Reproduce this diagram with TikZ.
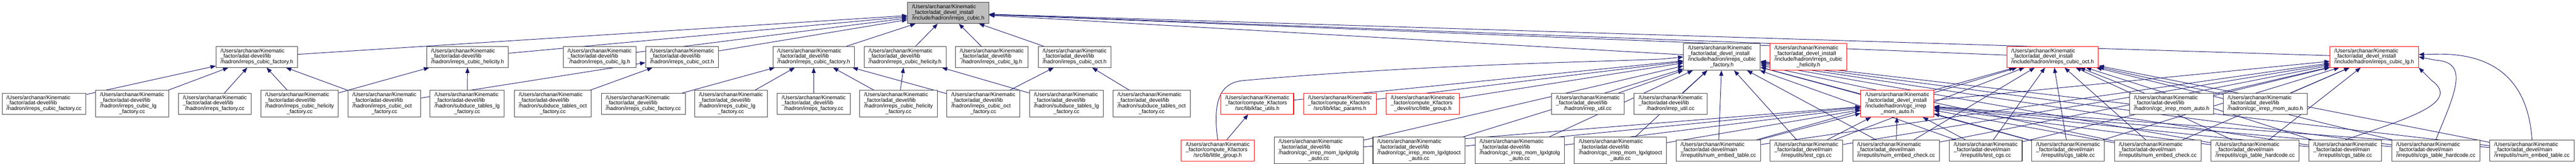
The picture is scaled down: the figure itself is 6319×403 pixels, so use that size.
\documentclass[tikz,border=0pt]{standalone}
\usepackage{fontspec}
\setmainfont{Liberation Sans}
\usetikzlibrary{arrows.meta}
\definecolor{edgeblue}{HTML}{191970}
\definecolor{boxgrey}{HTML}{404040}
\definecolor{rootgrey}{HTML}{BFBFBF}
\definecolor{trunc}{HTML}{FF0000}
\pgfdeclarelayer{bg}
\pgfsetlayers{bg,main}
\newcommand{\fpath}[2]{\begin{tabular}{@{}l@{}}/Users/archanar/Kinematic\\#1\\\multicolumn{1}{@{}c@{}}{#2}\end{tabular}}
\tikzset{
  filebox/.style={draw=boxgrey, line width=1.3pt, fill=white, inner xsep=11pt, inner ysep=5pt, font=\fontsize{13.3}{13.8}\selectfont},
  redbox/.style={filebox, draw=trunc},
  rootbox/.style={filebox, fill=rootgrey},
  dep/.style={draw=edgeblue, line width=1.2pt, -{Triangle[length=13pt,width=10pt]}}
}
\begin{document}
\begin{tikzpicture}[x=1pt,y=1pt]
\useasboundingbox (0,0) rectangle (6319,403);
\node[rootbox](R) at (2326,371) {\fpath{\_factor/adat\_devel\_install}{/include/hadron/irreps\_cubic.h}};
\node[filebox](A) at (630,263) {\fpath{\_factor/adat-devel/lib}{/hadron/irreps\_cubic\_factory.h}};
\node[filebox](B) at (1147,263) {\fpath{\_factor/adat-devel/lib}{/hadron/irreps\_cubic\_helicity.h}};
\node[filebox](C) at (1471,263) {\fpath{\_factor/adat-devel/lib}{/hadron/irreps\_cubic\_lg.h}};
\node[filebox](D) at (1673,263) {\fpath{\_factor/adat-devel/lib}{/hadron/irreps\_cubic\_oct.h}};
\node[filebox](E) at (1996,263) {\fpath{\_factor/adat\_devel/lib}{/hadron/irreps\_cubic\_factory.h}};
\node[filebox](F) at (2220,263) {\fpath{\_factor/adat\_devel/lib}{/hadron/irreps\_cubic\_helicity.h}};
\node[filebox](G) at (2433,263) {\fpath{\_factor/adat\_devel/lib}{/hadron/irreps\_cubic\_lg.h}};
\node[filebox](H) at (2636,263) {\fpath{\_factor/adat\_devel/lib}{/hadron/irreps\_cubic\_oct.h}};
\node[filebox](I) at (4224,263) {\fpath{\_factor/adat\_devel\_install\\/include/hadron/irreps\_cubic}{\_factory.h}};
\node[redbox](J) at (4436,263) {\fpath{\_factor/adat\_devel\_install\\/include/hadron/irreps\_cubic}{\_helicity.h}};
\node[redbox](K) at (5035,263) {\fpath{\_factor/adat\_devel\_install}{/include/hadron/irreps\_cubic\_oct.h}};
\node[redbox](L) at (5824,263) {\fpath{\_factor/adat\_devel\_install}{/include/hadron/irreps\_cubic\_lg.h}};
\node[filebox](M) at (108,148) {\fpath{\_factor/adat-devel/lib}{/hadron/irreps\_cubic\_factory.cc}};
\node[filebox](N) at (324,148) {\fpath{\_factor/adat-devel/lib\\/hadron/irreps\_cubic\_lg}{\_factory.cc}};
\node[filebox](O) at (527,148) {\fpath{\_factor/adat-devel/lib}{/hadron/irreps\_factory.cc}};
\node[filebox](P) at (735,148) {\fpath{\_factor/adat-devel/lib\\/hadron/irreps\_cubic\_helicity}{\_factory.cc}};
\node[filebox](Q) at (943,148) {\fpath{\_factor/adat-devel/lib\\/hadron/irreps\_cubic\_oct}{\_factory.cc}};
\node[filebox](S) at (1146,148) {\fpath{\_factor/adat-devel/lib\\/hadron/subduce\_tables\_lg}{\_factory.cc}};
\node[filebox](T) at (1356,148) {\fpath{\_factor/adat-devel/lib\\/hadron/subduce\_tables\_oct}{\_factory.cc}};
\node[filebox](U) at (1578,148) {\fpath{\_factor/adat\_devel/lib}{/hadron/irreps\_cubic\_factory.cc}};
\node[filebox](V) at (1793,148) {\fpath{\_factor/adat\_devel/lib\\/hadron/irreps\_cubic\_lg}{\_factory.cc}};
\node[filebox](W) at (1996,148) {\fpath{\_factor/adat\_devel/lib}{/hadron/irreps\_factory.cc}};
\node[filebox](X) at (2204,148) {\fpath{\_factor/adat\_devel/lib\\/hadron/irreps\_cubic\_helicity}{\_factory.cc}};
\node[filebox](Y) at (2412,148) {\fpath{\_factor/adat\_devel/lib\\/hadron/irreps\_cubic\_oct}{\_factory.cc}};
\node[filebox](Z) at (2616,148) {\fpath{\_factor/adat\_devel/lib\\/hadron/subduce\_tables\_lg}{\_factory.cc}};
\node[filebox](AA) at (2825,148) {\fpath{\_factor/adat\_devel/lib\\/hadron/subduce\_tables\_oct}{\_factory.cc}};
\node[redbox](AB) at (3084,148) {\fpath{\_factor/compute\_Kfactors}{/src/lib/kfac\_utils.h}};
\node[redbox](AC) at (3287,148) {\fpath{\_factor/compute\_Kfactors}{/src/lib/kfac\_params.h}};
\node[redbox](AD) at (3490,148) {\fpath{\_factor/compute\_Kfactors}{\_devel/src/little\_group.h}};
\node[filebox](AE) at (3895,148) {\fpath{\_factor/adat\_devel/lib}{/hadron/irrep\_util.cc}};
\node[filebox](AF) at (4098,148) {\fpath{\_factor/adat-devel/lib}{/hadron/irrep\_util.cc}};
\node[redbox](AG) at (4654,148) {\fpath{\_factor/adat\_devel\_install\\/include/hadron/cgc\_irrep}{\_mom\_auto.h}};
\node[filebox](AH) at (5327,148) {\fpath{\_factor/adat-devel/lib}{/hadron/cgc\_irrep\_mom\_auto.h}};
\node[filebox](AI) at (5557,148) {\fpath{\_factor/adat\_devel/lib}{/hadron/cgc\_irrep\_mom\_auto.h}};
\node[redbox](AJ) at (2987,33) {\fpath{\_factor/compute\_Kfactors}{/src/lib/little\_group.h}};
\node[filebox](AK) at (3235,33) {\fpath{\_factor/adat\_devel/lib\\/hadron/cgc\_irrep\_mom\_lgxlgtolg}{\_auto.cc}};
\node[filebox](AL) at (3481,33) {\fpath{\_factor/adat\_devel/lib\\/hadron/cgc\_irrep\_mom\_lgxlgtooct}{\_auto.cc}};
\node[filebox](AM) at (3728,33) {\fpath{\_factor/adat-devel/lib\\/hadron/cgc\_irrep\_mom\_lgxlgtolg}{\_auto.cc}};
\node[filebox](AN) at (3975,33) {\fpath{\_factor/adat-devel/lib\\/hadron/cgc\_irrep\_mom\_lgxlgtooct}{\_auto.cc}};
\node[filebox](AO) at (4215,33) {\fpath{\_factor/adat-devel/main}{/irreputils/num\_embed\_table.cc}};
\node[filebox](AP) at (4431,33) {\fpath{\_factor/adat\_devel/main}{/irreputils/test\_cgs.cc}};
\node[filebox](AQ) at (4651,33) {\fpath{\_factor/adat\_devel/main}{/irreputils/num\_embed\_check.cc}};
\node[filebox](AR) at (4871,33) {\fpath{\_factor/adat-devel/main}{/irreputils/test\_cgs.cc}};
\node[filebox](AS) at (5073,33) {\fpath{\_factor/adat\_devel/main}{/irreputils/cgs\_table.cc}};
\node[filebox](AT) at (5293,33) {\fpath{\_factor/adat-devel/main}{/irreputils/num\_embed\_check.cc}};
\node[filebox](AU) at (5532,33) {\fpath{\_factor/adat\_devel/main}{/irreputils/cgs\_table\_hardcode.cc}};
\node[filebox](AV) at (5753,33) {\fpath{\_factor/adat-devel/main}{/irreputils/cgs\_table.cc}};
\node[filebox](AW) at (5975,33) {\fpath{\_factor/adat-devel/main}{/irreputils/cgs\_table\_hardcode.cc}};
\node[filebox](AX) at (6211,33) {\fpath{\_factor/adat\_devel/main}{/irreputils/num\_embed\_table.cc}};
\coordinate (j) at (3050,205);
\coordinate (k) at (4080,258);
\coordinate (v) at (5965,205);
\coordinate (w) at (5975,255);
\coordinate (x) at (5985,270);
\begin{pgfonlayer}{bg}
\draw[dep] (A) -- (R);
\draw[dep] (B) -- (R);
\draw[dep] (C) -- (R);
\draw[dep] (D) -- (R);
\draw[dep] (E) -- (R);
\draw[dep] (F) -- (R);
\draw[dep] (G) -- (R);
\draw[dep] (H) -- (R);
\draw[dep] (I) -- (R);
\draw[dep] (J.north west) -- (R);
\draw[dep] (K) -- (R);
\draw[dep] (L) -- (R);
\draw[dep] (M) -- (A);
\draw[dep] (N) -- (A);
\draw[dep] (O) -- (A);
\draw[dep] (P) -- (A);
\draw[dep] (P) -- (B);
\draw[dep] (Q) -- (A);
\draw[dep] (Q) -- (D);
\draw[dep] (S) -- (B);
\draw[dep] (T) -- (D);
\draw[dep] (U) -- (E);
\draw[dep] (V) -- (E);
\draw[dep] (W) -- (E);
\draw[dep] (X) -- (E);
\draw[dep] (X) -- (F);
\draw[dep] (Y) -- (E);
\draw[dep] (Y) -- (H);
\draw[dep] (Z) -- (F);
\draw[dep] (AA) -- (H);
\draw[dep] (AJ) -- (AB);
\draw[dep] (AJ.north) .. controls (2975,150) and (2990,200) .. (j) .. controls (3500,245) and (3900,250) .. (k) -- (I.west);
\draw[dep] (AB) -- (I);
\draw[dep] (AC) -- (I);
\draw[dep] (AD) -- (I);
\draw[dep] (AK) -- (I);
\draw[dep] (AK) -- (AG);
\draw[dep] (AL) -- (I);
\draw[dep] (AL) -- (AG);
\draw[dep] (AM) -- (I);
\draw[dep] (AM) -- (AG);
\draw[dep] (AN) -- (I);
\draw[dep] (AN) -- (AG);
\draw[dep] (AE) -- (I);
\draw[dep] (AF) -- (I);
\draw[dep] (AG) -- (I);
\draw[dep] (AG) -- (K);
\draw[dep] (AG) -- (L);
\draw[dep] (AH) -- (K);
\draw[dep] (AH) -- (L);
\draw[dep] (AI) -- (K);
\draw[dep] (AI) -- (L);
\draw[dep] (AO) -- (I);
\draw[dep] (AO) -- (AG);
\draw[dep] (AO) -- (K);
\draw[dep] (AO) -- (L);
\draw[dep] (AP) -- (I);
\draw[dep] (AP) -- (AG);
\draw[dep] (AP) -- (K);
\draw[dep] (AP) -- (L);
\draw[dep] (AQ) -- (I);
\draw[dep] (AQ) -- (AG);
\draw[dep] (AQ) -- (K);
\draw[dep] (AQ) -- (L);
\draw[dep] (AR) -- (I);
\draw[dep] (AR) -- (AG);
\draw[dep] (AR) -- (K);
\draw[dep] (AR) -- (L);
\draw[dep] (AS) -- (I);
\draw[dep] (AS) -- (AG);
\draw[dep] (AS) -- (K);
\draw[dep] (AS) -- (L);
\draw[dep] (AT) -- (I);
\draw[dep] (AT) -- (AG);
\draw[dep] (AT) -- (K);
\draw[dep] (AT) -- (L);
\draw[dep] (AU) -- (I);
\draw[dep] (AU) -- (AG);
\draw[dep] (AU) -- (K);
\draw[dep] (AU) -- (L);
\draw[dep] (AV) -- (I);
\draw[dep] (AV) -- (AG);
\draw[dep] (AV) -- (K);
\draw[dep] (AV.north) .. controls (5900,110) and (6040,150) .. (v) -- (L.south east);
\draw[dep] (AW) -- (I);
\draw[dep] (AW) -- (AG);
\draw[dep] (AW) -- (K);
\draw[dep] (AW.north) .. controls (6020,170) and (6060,250) .. (w) -- (L.east);
\draw[dep] (AX) -- (I);
\draw[dep] (AX) -- (AG);
\draw[dep] (AX) -- (K);
\draw[dep] (AX.north) .. controls (6200,230) and (6090,270) .. (x) -- ([yshift=6pt]L.east);
\end{pgfonlayer}
\end{tikzpicture}
\end{document}
